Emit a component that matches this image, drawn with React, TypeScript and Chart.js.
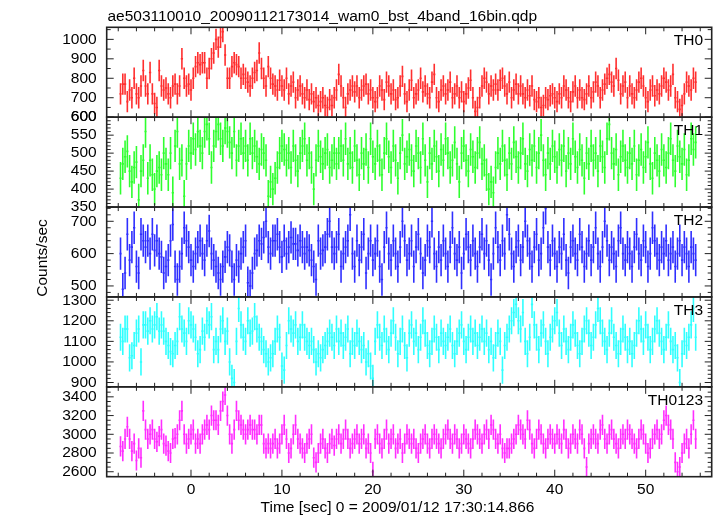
import React, { useEffect, useRef } from 'react';
import { Chart, registerables } from 'chart.js';

Chart.register(...registerables);

const TITLE = 'ae503110010_20090112173014_wam0_bst_4band_16bin.qdp';
const X_TITLE = 'Time [sec] 0 = 2009/01/12 17:30:14.866';
const Y_TITLE = 'Counts/sec';
const PANEL_NAMES = ['TH0', 'TH1', 'TH2', 'TH3', 'TH0123'];

// bin centres: first bin and bin width (sec)
const T_START = -7.75;
const BIN = 0.25;

const TH0 = [
  720, 770, 770, 680, 740, 700, 800, 720, 700, 760, 840, 760, 720, 830, 720, 670,
  650, 840, 760, 740, 750, 720, 700, 760, 770, 720, 760, 900, 800, 760, 770, 740,
  800, 860, 880, 870, 880, 880, 800, 850, 900, 930, 1000, 960, 1010, 1040, 920, 800,
  800, 860, 880, 870, 860, 800, 820, 800, 780, 760, 800, 830, 840, 930, 850, 800,
  760, 860, 800, 770, 760, 740, 790, 760, 740, 800, 720, 760, 780, 700, 740, 760,
  720, 700, 740, 690, 720, 680, 700, 660, 680, 700, 660, 650, 690, 660, 700, 740,
  820, 760, 700, 650, 720, 740, 760, 730, 760, 700, 740, 760, 770, 720, 740, 700,
  680, 700, 760, 740, 690, 780, 760, 720, 740, 690, 700, 760, 810, 720, 680, 740,
  790, 700, 720, 740, 800, 730, 760, 720, 700, 780, 820, 700, 680, 740, 760, 720,
  740, 780, 700, 720, 760, 700, 730, 680, 720, 750, 790, 700, 630, 650, 700, 760,
  800, 780, 720, 760, 740, 770, 740, 790, 800, 760, 720, 780, 700, 740, 770, 720,
  760, 720, 700, 740, 710, 760, 690, 680, 700, 650, 660, 700, 690, 710, 720, 700,
  680, 720, 700, 760, 740, 700, 680, 730, 760, 700, 740, 700, 690, 720, 760, 700,
  730, 780, 760, 700, 740, 770, 800, 820, 780, 760, 850, 790, 720, 760, 780, 700,
  760, 720, 700, 740, 780, 800, 760, 700, 680, 740, 760, 710, 740, 720, 760, 800,
  780, 740, 760, 820, 700, 680, 640, 660, 720, 780, 760, 740, 800, 780,
];

const TH1 = [
  430, 470, 490, 505, 450, 420, 460, 475, 370, 450, 480, 560, 430, 480, 440, 400,
  450, 460, 440, 500, 470, 440, 500, 390, 520, 560, 470, 480, 380, 470, 520, 500,
  540, 510, 560, 520, 500, 560, 580, 540, 460, 520, 560, 580, 540, 520, 570, 560,
  530, 500, 560, 480, 520, 540, 500, 520, 480, 540, 500, 520, 490, 470, 510, 500,
  480, 380, 420, 400, 430, 460, 500, 520, 510, 480, 500, 460, 520, 480, 450, 500,
  520, 540, 480, 500, 460, 400, 480, 520, 490, 470, 500, 510, 460, 480, 500, 470,
  500, 520, 480, 540, 470, 500, 460, 520, 480, 440, 500, 470, 510, 460, 540, 490,
  470, 520, 480, 440, 500, 540, 490, 460, 520, 480, 430, 500, 550, 470, 490, 510,
  480, 450, 520, 500, 460, 540, 480, 420, 500, 470, 520, 490, 450, 510, 480, 540,
  500, 460, 480, 530, 470, 420, 500, 520, 480, 450, 510, 490, 460, 500, 530, 470,
  480, 440, 400, 420, 390, 460, 500, 470, 520, 480, 440, 500, 470, 530, 490, 460,
  500, 540, 470, 450, 510, 480, 520, 460, 500, 550, 480, 440, 500, 470, 520, 490,
  460, 510, 480, 520, 450, 500, 470, 540, 490, 460, 510, 480, 430, 500, 470, 520,
  480, 500, 450, 520, 490, 460, 540, 580, 500, 470, 510, 440, 490, 520, 480, 460,
  500, 470, 520, 440, 480, 510, 460, 490, 530, 470, 430, 500, 480, 450, 510, 480,
  460, 500, 540, 480, 450, 520, 490, 470, 510, 440, 480, 540, 510, 530,
];

const TH2 = [
  600, 490, 540, 660, 580, 620, 680, 560, 540, 660, 640, 620, 640, 600, 660, 610,
  640, 600, 590, 540, 560, 580, 640, 690, 560, 520, 560, 600, 680, 640, 620, 580,
  560, 600, 620, 640, 600, 580, 640, 670, 600, 580, 560, 540, 520, 560, 590, 620,
  610, 560, 520, 580, 560, 600, 620, 640, 510, 500, 540, 600, 610, 640, 630, 650,
  700, 620, 600, 640, 640, 660, 620, 590, 640, 600, 620, 650, 630, 630, 610, 640,
  620, 600, 620, 610, 580, 560, 520, 640, 600, 610, 620, 660, 700, 620, 600, 620,
  660, 560, 600, 620, 640, 720, 600, 560, 640, 580, 620, 660, 540, 600, 640, 580,
  600, 640, 560, 520, 620, 680, 600, 580, 640, 600, 560, 620, 700, 640, 580, 600,
  640, 560, 620, 660, 600, 540, 580, 640, 620, 700, 600, 560, 620, 580, 640, 600,
  560, 620, 680, 600, 580, 620, 540, 600, 660, 620, 580, 640, 600, 560, 620, 660,
  600, 640, 580, 520, 600, 680, 620, 580, 640, 600, 720, 660, 600, 560, 620, 640,
  580, 620, 700, 640, 600, 560, 620, 660, 580, 600, 680, 740, 620, 580, 640, 600,
  560, 620, 600, 660, 580, 540, 620, 640, 600, 580, 660, 620, 560, 600, 640, 580,
  620, 680, 600, 560, 620, 700, 640, 580, 620, 600, 560, 640, 680, 600, 580, 620,
  600, 560, 620, 660, 600, 580, 640, 620, 560, 600, 680, 640, 600, 580, 620, 600,
  640, 580, 600, 620, 560, 600, 640, 580, 620, 600, 560, 620, 600, 580,
];

const TH3 = [
  1120, 1100, 1160, 1160, 1020, 1030, 1080, 1140, 1160, 1000, 1180, 1180, 1150, 1200, 1160, 1180,
  1220, 1150, 1180, 1150, 1100, 1080, 1050, 1040, 1080, 1100, 1220, 1160, 1140, 1100, 1200, 1180,
  1160, 1120, 1040, 1060, 1150, 1120, 1200, 1180, 1220, 1060, 1100, 1060, 1160, 1200, 1100, 1150,
  1000, 920, 900, 1100, 1260, 1180, 1120, 1100, 1200, 1140, 1150, 1220, 1160, 1120, 1100, 1060,
  1040, 1000, 1020, 1040, 1100, 1160, 1120, 980, 960, 1080, 1200, 1160, 1140, 1180, 1100, 1120,
  1180, 1120, 1100, 1080, 1100, 1060, 1000, 1040, 1020, 1060, 1080, 1100, 1140, 1120, 1080, 1160,
  1100, 1140, 1080, 1120, 1160, 1040, 1100, 1080, 1140, 1100, 1060, 1080, 1000, 1040, 980, 920,
  1100, 1180, 1120, 1080, 1160, 1100, 1060, 1140, 1200, 1120, 1040, 1100, 1160, 1080, 1020, 1140,
  1180, 1100, 1140, 1060, 1120, 1200, 1140, 1080, 1040, 1100, 1160, 1120, 1060, 1140, 1100, 1080,
  1120, 1160, 1080, 1040, 1100, 1140, 1180, 1100, 1060, 1120, 1160, 1100, 1140, 1080, 1120, 1160,
  1100, 1140, 1060, 1100, 1020, 1080, 1140, 1100, 960, 1080, 1120, 1160, 1200, 1240, 1280, 1200,
  1160, 1240, 1100, 1040, 1120, 1280, 1180, 1120, 1060, 1140, 1180, 1100, 1040, 1120, 1160, 1200,
  1240, 1140, 1080, 1160, 1100, 1060, 1120, 1180, 1140, 1080, 1040, 1100, 1160, 1200, 1140, 1080,
  1120, 1180, 1260, 1200, 1140, 1100, 1060, 1140, 1200, 1120, 1080, 1040, 1100, 1160, 1120, 1060,
  1100, 1040, 1080, 1140, 1200, 1160, 1100, 1180, 1120, 1060, 1100, 1160, 1200, 1140, 1100, 1060,
  1120, 1180, 1100, 1060, 1080, 1020, 900, 1040, 1100, 1080, 1120, 1180, 1260, 1120,
];

const TH0123 = [
  2870, 2820, 2950, 3080, 2950, 2820, 2900, 2720, 2850, 2750, 3250, 3050, 2950, 3000, 3050, 2950,
  2920, 2980, 3050, 2900, 2880, 2820, 2800, 2950, 2960, 3000, 3150, 3250, 3000, 2900, 2950, 3000,
  3050, 2900, 2950, 2900, 3000, 3050, 3100, 3050, 3200, 3150, 3150, 3100, 3250, 3350, 3420, 3200,
  3000, 2900, 3050, 3250, 3150, 3100, 3050, 3000, 3050, 3100, 3050, 3050, 3000, 3100, 3100, 2900,
  2850, 2900, 2850, 2900, 2950, 2850, 2900, 3000, 3100, 2950, 2800, 2850, 3000, 3100, 2950, 2900,
  2850, 2800, 2900, 2950, 3000, 2750, 2700, 2800, 2900, 2950, 2850, 2800, 2900, 2950, 2880, 2950,
  3000, 2900, 2950, 3050, 2950, 2850, 2900, 2950, 3000, 2900, 2950, 3000, 2850, 2900, 2800, 2600,
  2950, 3000, 2900, 2850, 2950, 3050, 2900, 2950, 3000, 2850, 2900, 2950, 2800, 2900, 3000, 2950,
  2900, 2950, 2850, 2800, 2900, 2950, 3000, 2900, 2850, 2950, 3000, 2950, 2900, 2850, 2950, 3000,
  3050, 2950, 2900, 3000, 2950, 2850, 2900, 3000, 2950, 2900, 2850, 2950, 3050, 3000, 2950, 2900,
  3000, 3050, 2950, 3100, 3050, 2950, 2900, 3000, 2850, 2800, 2850, 2850, 2900, 2950, 3000, 3100,
  3050, 3000, 2950, 3150, 3050, 2900, 2850, 2950, 3050, 3000, 2900, 2850, 2950, 3000, 2950, 2900,
  3000, 2950, 2900, 3050, 2950, 2850, 2900, 3000, 2950, 2900, 3050, 3000, 2850, 2650, 2900, 2950,
  3000, 2950, 2900, 3050, 3100, 2950, 2900, 3000, 3050, 2950, 2900, 2850, 2950, 3000, 2950, 3050,
  3000, 2950, 2900, 2850, 2950, 3050, 3000, 2900, 2800, 2850, 2950, 3000, 3050, 2950, 3000, 3150,
  3200, 3100, 3050, 2950, 2700, 2600, 2650, 2800, 2900, 2950, 2850, 3000, 3150, 2950,
];

const SERIES = [TH0, TH1, TH2, TH3, TH0123];
// 1-sigma error half-heights per panel (counts/sec)
const ERR = [55, 45, 50, 66, 108];
const Y_MIN = [600, 350, 466, 879, 2547];
const Y_MAX = [1062, 600, 744, 1316, 3507];
const Y_TICKS = [
  [600, 700, 800, 900, 1000],
  [350, 400, 450, 500, 550, 600],
  [500, 600, 700],
  [900, 1000, 1100, 1200, 1300],
  [2600, 2800, 3000, 3200, 3400],
];
const Y_MINOR = [50, 10, 20, 20, 50];
const X_TICKS = [0, 10, 20, 30, 40, 50];
const X_MINOR = 2;
const X_MIN = -9.27;
const X_MAX = 57.26;
const COLORS = ['#ff2f2f', '#2fff2f', '#2f2fff', '#2fffff', '#ff2fff'];

const FONT = 'Liberation Sans, Arial, Helvetica, sans-serif';
const FONT_SIZE = 15.5;

const qdpPlugin = {
  id: 'qdp',
  afterDraw(chart: any) {
    const ctx = chart.ctx;
    const area = chart.chartArea;
    const xs = chart.scales.x;
    ctx.save();
    // error bars
    SERIES.forEach((_s, i) => {
      const meta = chart.getDatasetMeta(i);
      const ys = chart.scales['y' + i];
      ctx.save();
      ctx.beginPath();
      ctx.rect(area.left, ys.top, area.right - area.left, ys.bottom - ys.top);
      ctx.clip();
      ctx.strokeStyle = COLORS[i];
      ctx.lineWidth = 1.6;
      ctx.beginPath();
      meta.data.forEach((pt: any, j: number) => {
        const raw = chart.data.datasets[i].data[j];
        const xl = xs.getPixelForValue(raw.x - BIN / 2);
        const xr = xs.getPixelForValue(raw.x + BIN / 2);
        const yt = ys.getPixelForValue(raw.y + ERR[i]);
        const yb = ys.getPixelForValue(raw.y - ERR[i]);
        ctx.moveTo(xl, pt.y);
        ctx.lineTo(xr, pt.y);
        ctx.moveTo(pt.x, yt);
        ctx.lineTo(pt.x, yb);
      });
      ctx.stroke();
      ctx.restore();
    });
    // frames and ticks
    ctx.strokeStyle = '#222';
    ctx.lineWidth = 1;
    SERIES.forEach((_s, i) => {
      const ys = chart.scales['y' + i];
      ctx.beginPath();
      const step = Y_MINOR[i];
      for (let v = Math.ceil(ys.min / step) * step; v <= ys.max + 1e-6; v += step) {
        const y = ys.getPixelForValue(v);
        const len = Y_TICKS[i].includes(v) ? 7 : 4;
        ctx.moveTo(area.left, y);
        ctx.lineTo(area.left + len, y);
        ctx.moveTo(area.right, y);
        ctx.lineTo(area.right - len, y);
      }
      for (let t = Math.ceil(X_MIN / X_MINOR) * X_MINOR; t <= X_MAX; t += X_MINOR) {
        const x = xs.getPixelForValue(t);
        const len = X_TICKS.includes(t) ? 7 : 4;
        ctx.moveTo(x, ys.top);
        ctx.lineTo(x, ys.top + len);
        ctx.moveTo(x, ys.bottom);
        ctx.lineTo(x, ys.bottom - len);
      }
      ctx.stroke();
      ctx.lineWidth = 1.6;
      ctx.strokeRect(area.left, ys.top, area.right - area.left, ys.bottom - ys.top);
      ctx.lineWidth = 1;
    });
    // texts
    ctx.fillStyle = '#000';
    ctx.font = `${FONT_SIZE}px ${FONT}`;
    ctx.textBaseline = 'alphabetic';
    ctx.textAlign = 'left';
    ctx.fillText(TITLE, 107.5, 20.5);
    ctx.textAlign = 'right';
    SERIES.forEach((_s, i) => {
      const ys = chart.scales['y' + i];
      ctx.fillText(PANEL_NAMES[i], 703, ys.top + 18);
    });
    ctx.textAlign = 'center';
    ctx.fillText(X_TITLE, 397.5, 511.5);
    ctx.save();
    ctx.translate(47, 258);
    ctx.rotate(-Math.PI / 2);
    ctx.fillText(Y_TITLE, 0, 0);
    ctx.restore();
    ctx.restore();
  },
};

export default function App() {
  const ref = useRef<HTMLCanvasElement | null>(null);
  useEffect(() => {
    if (!ref.current) return;
    const times = TH0.map((_v, j) => T_START + BIN * j);
    const datasets = SERIES.map((s, i) => ({
      label: PANEL_NAMES[i],
      data: s.map((v, j) => ({ x: times[j], y: v })),
      yAxisID: 'y' + i,
      showLine: false,
      pointRadius: 0,
      borderColor: COLORS[i],
      backgroundColor: COLORS[i],
    }));
    const tickFont = { family: FONT, size: FONT_SIZE };
    const scales: any = {
      x: {
        type: 'linear',
        position: 'bottom',
        min: X_MIN,
        max: X_MAX,
        grid: { display: false, drawTicks: false },
        border: { display: false },
        ticks: { font: tickFont, color: '#000', padding: 4, maxRotation: 0, autoSkip: false, callback: (v: any) => String(v) },
        afterBuildTicks: (s: any) => { s.ticks = X_TICKS.map((v) => ({ value: v })); },
        afterFit: (s: any) => { s.height = 39.3; },
      },
    };
    // left stacked boxes are laid out in reverse order: add bottom panel first
    for (let i = SERIES.length - 1; i >= 0; i--) {
      scales['y' + i] = {
        type: 'linear',
        position: 'left',
        stack: 'panels',
        stackWeight: 1,
        min: Y_MIN[i],
        max: Y_MAX[i],
        grid: { display: false, drawTicks: false },
        border: { display: false },
        ticks: { font: tickFont, color: '#000', padding: 10, autoSkip: false, callback: (v: any) => String(v) },
        afterBuildTicks: (s: any) => { s.ticks = Y_TICKS[i].map((v) => ({ value: v })); },
        afterFit: (s: any) => { s.width = 106.7; },
      };
    }
    const chart = new Chart(ref.current, {
      type: 'line',
      data: { datasets },
      options: {
        responsive: false,
        animation: false,
        devicePixelRatio: 1,
        layout: { padding: { top: 27.3, right: 5.3, left: 0, bottom: 0 } },
        plugins: { legend: { display: false }, tooltip: { enabled: false }, title: { display: false } },
        scales,
      },
      plugins: [qdpPlugin],
    } as any);
    return () => chart.destroy();
  }, []);
  return (
    <div style={{ position: 'fixed', left: 0, top: 0, width: 717, height: 516, background: '#fff' }}>
      <canvas ref={ref} width={717} height={516} style={{ width: 717, height: 516, display: 'block' }} />
    </div>
  );
}
